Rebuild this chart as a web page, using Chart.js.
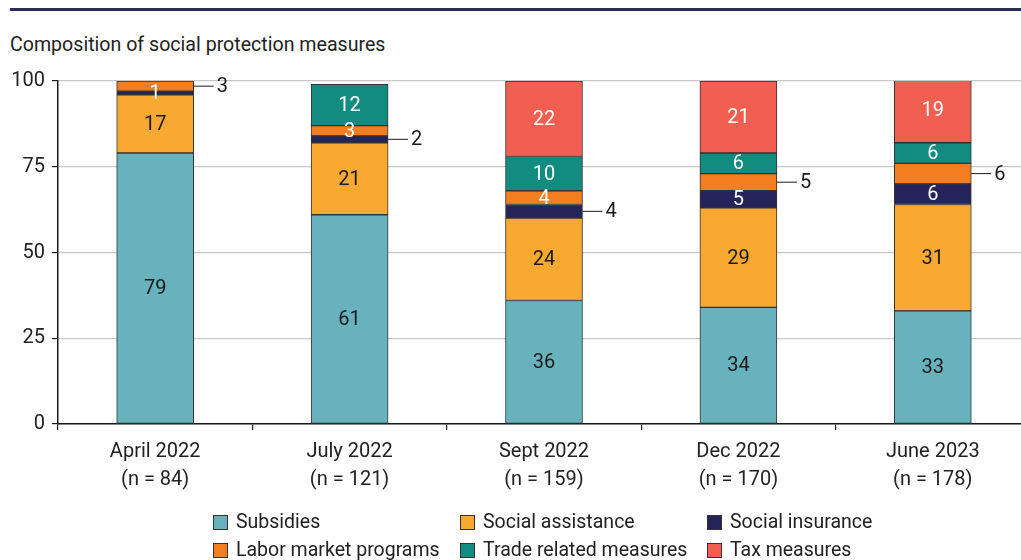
<!DOCTYPE html>
<html>
<head>
<meta charset="utf-8">
<script src="https://cdn.jsdelivr.net/npm/chart.js@4.4.1/dist/chart.umd.min.js"></script>
<style>
  html, body { margin: 0; padding: 0; background: #fff; overflow: hidden; width: 1021px; height: 560px; }
  body { position: relative; font-family: Roboto, "Open Sans", sans-serif; color: #222; }
  #rule { position: absolute; left: 10px; top: 8px; width: 1011px; height: 3px; background: #2a2b5c; }
  #title { position: absolute; left: 10px; top: 32px; font-size: 19.6px; line-height: 26px; white-space: nowrap; }
  #chart { position: absolute; left: 0; top: 0; }
  #legend { position: absolute; left: 213px; top: 510px; display: grid; grid-template-columns: 247px 247px 247px; row-gap: 4px; font-size: 19.5px; line-height: 24px; }
  .item { display: flex; align-items: center; white-space: nowrap; }
  .swatch { width: 13px; height: 13px; border: 1px solid #333; margin-right: 8px; box-sizing: content-box; }
</style>
</head>
<body>
<div id="rule"></div>
<div id="title">Composition of social protection measures</div>
<canvas id="chart" width="1030" height="560"></canvas>
<div id="legend"></div>
<script>
// Survey rounds and number of measures counted in each
const periods = ["April 2022", "July 2022", "Sept 2022", "Dec 2022", "June 2023"];
const sampleSizes = [84, 121, 159, 170, 178];
const yTicks = [0, 25, 50, 75, 100];

// Share of measures by type (percent)
const subsidies          = [79, 61, 36, 34, 33];
const socialAssistance   = [17, 21, 24, 29, 31];
const socialInsurance    = [1, 2, 4, 5, 6];
const laborMarket        = [3, 3, 4, 5, 6];
const tradeRelated       = [0, 12, 10, 6, 6];
const taxMeasures        = [0, 0, 22, 21, 19];

const seriesNames = ["Subsidies", "Social assistance", "Social insurance",
                     "Labor market programs", "Trade related measures", "Tax measures"];
const seriesValues = [subsidies, socialAssistance, socialInsurance, laborMarket, tradeRelated, taxMeasures];
const seriesColors = ["#67b2bc", "#f9a832", "#24245b", "#f37e21", "#128b81", "#f05f50"];
const labelColors  = ["#1a1a1a", "#1a1a1a", "#ffffff", "#ffffff", "#ffffff", "#ffffff"];

// Thin segments whose value is written outside the bar with a short leader line: [series, period]
const calloutSegments = [[3, 0], [2, 1], [2, 2], [3, 3], [3, 4]];

const labels = periods.map((p, i) => [p, "(n = " + sampleSizes[i] + ")"]);
const FONT = "Roboto, 'Open Sans', sans-serif";

const segmentLabels = {
  id: "segmentLabels",
  afterDatasetsDraw(chart) {
    const ctx = chart.ctx;
    ctx.save();
    ctx.font = "20px " + FONT;
    ctx.textBaseline = "middle";
    chart.data.datasets.forEach((ds, di) => {
      const meta = chart.getDatasetMeta(di);
      meta.data.forEach((bar, i) => {
        const v = ds.data[i];
        if (!v) return;
        const cy = (bar.y + bar.base) / 2;
        const callout = calloutSegments.some(c => c[0] === di && c[1] === i);
        if (callout) {
          const x0 = bar.x + bar.width / 2;
          ctx.strokeStyle = "#1a1a1a";
          ctx.lineWidth = 1;
          ctx.beginPath();
          ctx.moveTo(x0, cy);
          ctx.lineTo(x0 + 20, cy);
          ctx.stroke();
          ctx.fillStyle = "#1a1a1a";
          ctx.textAlign = "left";
          ctx.fillText(String(v), x0 + 23, cy + 1);
        } else {
          ctx.fillStyle = labelColors[di];
          ctx.textAlign = "center";
          ctx.fillText(String(v), bar.x, cy + 1);
        }
      });
    });
    ctx.restore();
  }
};

const chart = new Chart(document.getElementById("chart"), {
  type: "bar",
  data: {
    labels: labels,
    datasets: seriesNames.map((name, k) => ({
      label: name,
      data: seriesValues[k],
      backgroundColor: seriesColors[k],
      borderColor: "#333333",
      borderWidth: 1,
      borderSkipped: false,
      barThickness: 77
    }))
  },
  options: {
    responsive: false,
    animation: false,
    devicePixelRatio: 1,
    layout: { padding: { top: 81, left: 0, right: 0, bottom: 0 } },
    plugins: { legend: { display: false }, tooltip: { enabled: false }, title: { display: false } },
    scales: {
      x: {
        stacked: true,
        offset: true,
        grid: { offset: true, drawOnChartArea: false, tickLength: 6, tickColor: "#1a1a1a", lineWidth: 1.2 },
        border: { color: "#1a1a1a", width: 1.5 },
        ticks: { color: "#222", font: { family: FONT, size: 20, lineHeight: 1.4 }, padding: 8, maxRotation: 0, autoSkip: false },
        afterFit(scale) { scale.height = 136; }
      },
      y: {
        stacked: true,
        min: 0,
        max: 100,
        afterBuildTicks(scale) { scale.ticks = yTicks.map(v => ({ value: v })); },
        grid: { color: "#c8c8c8", tickColor: "#1a1a1a", tickLength: 6, lineWidth: 1.2 },
        border: { color: "#1a1a1a", width: 1.5 },
        ticks: { color: "#222", font: { family: FONT, size: 20 }, padding: 7 },
        afterFit(scale) { scale.width = 58; }
      }
    }
  },
  plugins: [segmentLabels]
});

// Legend laid out in three fixed columns
const legend = document.getElementById("legend");
seriesNames.forEach((name, k) => {
  const item = document.createElement("div");
  item.className = "item";
  const sw = document.createElement("span");
  sw.className = "swatch";
  sw.style.background = seriesColors[k];
  const tx = document.createElement("span");
  tx.textContent = name;
  item.appendChild(sw);
  item.appendChild(tx);
  legend.appendChild(item);
});
</script>
</body>
</html>
